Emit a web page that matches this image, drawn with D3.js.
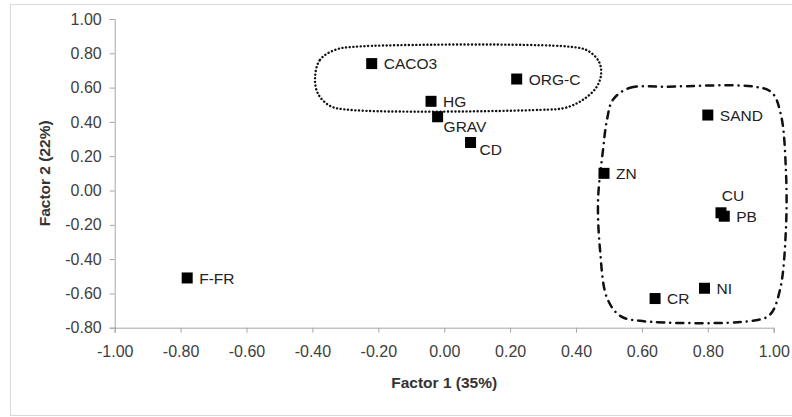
<!DOCTYPE html>
<html>
<head>
<meta charset="utf-8">
<script src="https://cdn.jsdelivr.net/npm/d3@7"></script>
<style>
  html, body { margin: 0; padding: 0; background: #fff; }
  svg { display: block; font-family: "Liberation Sans", Arial, sans-serif; }
</style>
</head>
<body>
<svg id="chart" width="792" height="417"></svg>
<script>
// ---- data ----
const names   = ["CACO3", "ORG-C", "HG", "GRAV", "CD", "ZN", "SAND", "CU", "PB", "NI", "CR", "F-FR"];
const factor1 = [-0.22, 0.22, -0.04, -0.02, 0.08, 0.485, 0.80, 0.84, 0.85, 0.79, 0.64, -0.78];
const factor2 = [0.74, 0.65, 0.52, 0.43, 0.28, 0.10, 0.44, -0.13, -0.15, -0.57, -0.63, -0.51];

const xTickValues = [-1.0, -0.8, -0.6, -0.4, -0.2, 0.0, 0.2, 0.4, 0.6, 0.8, 1.0];
const xTickLabels = ["-1.00", "-0.80", "-0.60", "-0.40", "-0.20", "0.00", "0.20", "0.40", "0.60", "0.80", "1.00"];
const yTickValues = [-0.8, -0.6, -0.4, -0.2, 0.0, 0.2, 0.4, 0.6, 0.8, 1.0];
const yTickLabels = ["-0.80", "-0.60", "-0.40", "-0.20", "0.00", "0.20", "0.40", "0.60", "0.80", "1.00"];

const xTitle = "Factor 1 (35%)";
const yTitle = "Factor 2 (22%)";

// group outlines, in data units (factor1, factor2)
const groupDottedX = [-0.392, -0.377, -0.331, -0.271, 0.382, 0.436, 0.470, 0.476, 0.461, 0.421, 0.367, 0.291, -0.286, -0.347, -0.383];
const groupDottedY = [0.657, 0.762, 0.820, 0.838, 0.838, 0.815, 0.750, 0.674, 0.599, 0.529, 0.482, 0.470, 0.470, 0.494, 0.564];
const groupDashDotX = [0.512, 0.564, 0.670, 0.943, 0.995, 1.022, 1.037, 1.037, 1.019, 0.988, 0.934, 0.594, 0.534, 0.494, 0.473, 0.467, 0.482, 0.494];
const groupDashDotY = [0.529, 0.599, 0.605, 0.605, 0.570, 0.441, 0.121, -0.229, -0.580, -0.725, -0.760, -0.760, -0.731, -0.626, -0.346, -0.054, 0.237, 0.412];

// ---- layout ----
const svg = d3.select("#chart");
const margin = { left: 114.7, right: 18.3, top: 19, bottom: 89.3 };
const W = 792, H = 417;

svg.append("rect")
  .attr("x", 10.5).attr("y", 4.5)
  .attr("width", 800).attr("height", 411)
  .attr("fill", "#fff").attr("stroke", "#d9d9d9").attr("stroke-width", 1);

const x = d3.scaleLinear().domain([-1, 1]).range([margin.left, W - margin.right]);
const y = d3.scaleLinear().domain([-0.8, 1]).range([H - margin.bottom, margin.top]);

// axes
const xAxis = d3.axisBottom(x).tickValues(xTickValues)
  .tickFormat((d, i) => xTickLabels[i]).tickSize(5).tickSizeOuter(5).tickPadding(13);
const yAxis = d3.axisLeft(y).tickValues(yTickValues)
  .tickFormat((d, i) => yTickLabels[i]).tickSize(5).tickSizeOuter(5).tickPadding(8);

const gx = svg.append("g").attr("transform", `translate(0,${y(-0.8)})`).call(xAxis);
const gy = svg.append("g").attr("transform", `translate(${x(-1)},0)`).call(yAxis);
[gx, gy].forEach(g => {
  g.select(".domain").attr("stroke", "#a6a6a6");
  g.selectAll(".tick line").attr("stroke", "#a6a6a6");
  g.selectAll(".tick text")
    .attr("fill", "#404040")
    .style("font-size", "16px")
    .style("font-family", "'Liberation Sans', Arial, sans-serif");
});

// axis titles
svg.append("text")
  .attr("x", x(0)).attr("y", 383)
  .attr("text-anchor", "middle").attr("dy", "0.35em")
  .style("font-size", "15.5px").style("font-weight", "bold").attr("fill", "#333")
  .text(xTitle);
svg.append("text")
  .attr("transform", `translate(45,${y(0.1)}) rotate(-90)`)
  .attr("text-anchor", "middle").attr("dy", "0.35em")
  .style("font-size", "15.5px").style("font-weight", "bold").attr("fill", "#333")
  .text(yTitle);

// group outlines
const outline = d3.line().x(d => x(d[0])).y(d => y(d[1])).curve(d3.curveCatmullRomClosed.alpha(0.5));
svg.append("path")
  .attr("d", outline(d3.zip(groupDottedX, groupDottedY)))
  .attr("fill", "none").attr("stroke", "#111").attr("stroke-width", 2.4)
  .attr("stroke-linecap", "round").attr("stroke-dasharray", "0.1 3.6");
svg.append("path")
  .attr("d", outline(d3.zip(groupDashDotX, groupDashDotY)))
  .attr("fill", "none").attr("stroke", "#111").attr("stroke-width", 2.5)
  .attr("stroke-linecap", "round").attr("stroke-dasharray", "7 6 0.1 6");

// points
const pts = names.map((n, i) => ({ name: n, f1: factor1[i], f2: factor2[i] }));
const size = 11;
svg.append("g").selectAll("rect").data(pts).join("rect")
  .attr("x", d => x(d.f1) - size / 2)
  .attr("y", d => y(d.f2) - size / 2)
  .attr("width", size).attr("height", size)
  .attr("fill", "#000");

// label placement (style: offsets from marker, px)
const labelPlacement = {
  "GRAV": { dx: 6, dy: 10, anchor: "start" },
  "CD":   { dx: 9, dy: 7, anchor: "start" },
  "CU":   { dx: 12, dy: -17, anchor: "middle" }
};
svg.append("g").selectAll("text").data(pts).join("text")
  .attr("x", d => x(d.f1) + (labelPlacement[d.name] ? labelPlacement[d.name].dx : 12))
  .attr("y", d => y(d.f2) + (labelPlacement[d.name] ? labelPlacement[d.name].dy : 0))
  .attr("dy", "0.36em")
  .attr("text-anchor", d => labelPlacement[d.name] ? labelPlacement[d.name].anchor : "start")
  .style("font-size", "15.5px").attr("fill", "#222")
  .text(d => d.name);
</script>
</body>
</html>
